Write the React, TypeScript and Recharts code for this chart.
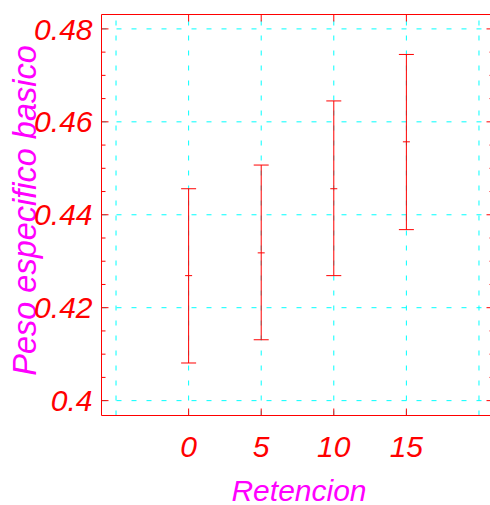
import React from 'react';
import { ScatterChart, Scatter, XAxis, YAxis, ErrorBar, ReferenceLine, Label } from 'recharts';

const categories = [0, 5, 10, 15];
const means = [0.4269, 0.4318, 0.4456, 0.4557];
const lowerBounds = [0.4081, 0.4131, 0.4269, 0.4368];
const upperBounds = [0.4456, 0.4507, 0.4645, 0.4745];

const xTicks = [0, 5, 10, 15];
const xGrid = [-5, 0, 5, 10, 15, 20];
const yMajorTicks = [0.4, 0.42, 0.44, 0.46, 0.48];
const yTickLabels = ['0.4', '0.42', '0.44', '0.46', '0.48'];
const yMinorTicks = [0.405, 0.41, 0.415, 0.425, 0.43, 0.435, 0.445, 0.45, 0.455, 0.465, 0.47, 0.475];
const xDomain: [number, number] = [-6, 21];
const yDomain: [number, number] = [0.3968, 0.4831];
const xTitle = 'Retencion';
const yTitle = 'Peso especifico basico';

const FONT = '"Liberation Sans", Arial, Helvetica, sans-serif';
const RED = '#ff0000';
const MAGENTA = '#ff00ff';
const CYAN = '#00ffff';

const yAllTicks = [...yMajorTicks, ...yMinorTicks].sort((a, b) => a - b);
const data = categories.map((c, i) => ({
  x: c,
  y: means[i],
  err: [means[i] - lowerBounds[i], upperBounds[i] - means[i]],
}));

const majorIndex = (v: number) => yMajorTicks.findIndex((m) => Math.abs(m - v) < 1e-9);

const LEFT_TICK_MARGIN = 9;
const BOTTOM_TICK_MARGIN = 20;

const LeftTick = (props: any) => {
  const { x, y, payload } = props;
  const axisX = x + LEFT_TICK_MARGIN;
  const idx = majorIndex(payload.value);
  const len = idx >= 0 ? 7 : 4;
  return (
    <g>
      <line x1={axisX} x2={axisX + len} y1={y} y2={y} stroke={RED} strokeWidth={1} />
      {idx >= 0 && (
        <text x={x} y={y} dy="0.355em" textAnchor="end" fill={RED} fontSize={30} fontStyle="italic" fontFamily={FONT}>
          {yTickLabels[idx]}
        </text>
      )}
    </g>
  );
};

const RightTick = (props: any) => {
  const { x, y, payload } = props;
  const idx = majorIndex(payload.value);
  const len = idx >= 0 ? 7 : 4;
  return <line x1={x} x2={x - len} y1={y} y2={y} stroke={RED} strokeWidth={1} />;
};

const BottomTick = (props: any) => {
  const { x, y, payload } = props;
  const axisY = y - BOTTOM_TICK_MARGIN;
  return (
    <g>
      <line x1={x} x2={x} y1={axisY} y2={axisY - 7} stroke={RED} strokeWidth={1} />
      <text x={x} y={y} dy="0.71em" textAnchor="middle" fill={RED} fontSize={30} fontStyle="italic" fontFamily={FONT}>
        {String(payload.value)}
      </text>
    </g>
  );
};

const TopTick = (props: any) => {
  const { x, y } = props;
  return <line x1={x} x2={x} y1={y} y2={y + 7} stroke={RED} strokeWidth={1} />;
};

const YTitle = (props: any) => {
  const vb = props.viewBox;
  const cx = vb.x + 24.5;
  const cy = vb.y + vb.height / 2 - 4.5;
  return (
    <text
      x={cx}
      y={cy}
      transform={`rotate(-90 ${cx} ${cy})`}
      textAnchor="middle"
      dy="0.355em"
      fill={MAGENTA}
      fontSize={32.5}
      fontStyle="italic"
      fontFamily={FONT}
    >
      {yTitle}
    </text>
  );
};

const XTitle = (props: any) => {
  const vb = props.viewBox;
  const cx = vb.x + vb.width / 2 + 1.5;
  const cy = vb.y + vb.height - 4.5;
  return (
    <text x={cx} y={cy} textAnchor="middle" fill={MAGENTA} fontSize={30} fontStyle="italic" fontFamily={FONT}>
      {xTitle}
    </text>
  );
};

const MidMark = (props: any) => {
  const { cx, cy } = props;
  return <line x1={cx - 3.5} x2={cx + 3.5} y1={cy} y2={cy} stroke={RED} strokeWidth={1} />;
};

export default function App() {
  return (
    <div style={{ position: 'absolute', left: 0, top: 0, width: 490, height: 505, overflow: 'hidden', background: '#fff' }}>
      <ScatterChart width={500} height={505} margin={{ top: 0, right: 0, bottom: 0, left: 0 }}>
        <XAxis
          xAxisId={0}
          type="number"
          dataKey="x"
          domain={xDomain}
          allowDataOverflow
          ticks={xTicks}
          interval={0}
          orientation="bottom"
          height={89.5}
          stroke={RED}
          tickLine={false}
          tickSize={0}
          tickMargin={BOTTOM_TICK_MARGIN}
          tick={<BottomTick />}
        >
          <Label content={<XTitle />} />
        </XAxis>
        <XAxis
          xAxisId="top"
          type="number"
          dataKey="x"
          domain={xDomain}
          allowDataOverflow
          ticks={xTicks}
          interval={0}
          orientation="top"
          height={14.5}
          stroke={RED}
          tickLine={false}
          tickSize={0}
          tickMargin={0}
          tick={<TopTick />}
        />
        <YAxis
          yAxisId={0}
          type="number"
          dataKey="y"
          domain={yDomain}
          allowDataOverflow
          ticks={yAllTicks}
          interval={0}
          orientation="left"
          width={101.5}
          stroke={RED}
          tickLine={false}
          tickSize={0}
          tickMargin={LEFT_TICK_MARGIN}
          tick={<LeftTick />}
        >
          <Label content={<YTitle />} />
        </YAxis>
        <YAxis
          yAxisId="right"
          type="number"
          dataKey="y"
          domain={yDomain}
          allowDataOverflow
          ticks={yAllTicks}
          interval={0}
          orientation="right"
          width={6.5}
          stroke={RED}
          tickLine={false}
          tickSize={0}
          tickMargin={0}
          tick={<RightTick />}
        />
        {xGrid.map((v) => (
          <ReferenceLine key={'gx' + v} x={v} xAxisId={0} yAxisId={0} stroke={CYAN} strokeDasharray="5 10" strokeWidth={1} />
        ))}
        {yMajorTicks.map((v) => (
          <ReferenceLine key={'gy' + v} y={v} xAxisId={0} yAxisId={0} stroke={CYAN} strokeDasharray="5 10" strokeWidth={1} />
        ))}
        <Scatter data={data} dataKey="y" xAxisId={0} yAxisId={0} shape={<MidMark />} isAnimationActive={false}>
          <ErrorBar dataKey="err" direction="y" width={7.5} stroke={RED} strokeWidth={1} isAnimationActive={false} />
        </Scatter>
      </ScatterChart>
    </div>
  );
}
